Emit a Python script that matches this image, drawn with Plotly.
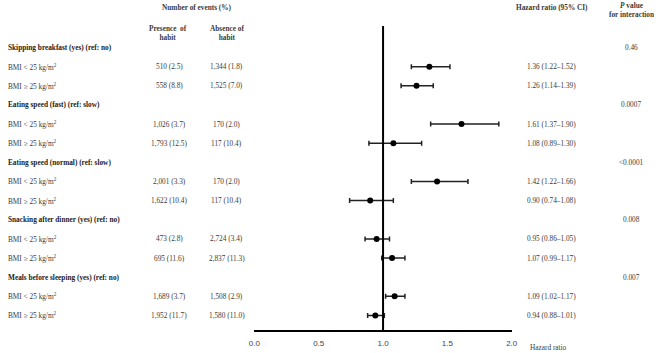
import plotly.graph_objects as go

categories = ["Skipping breakfast (yes) (ref: no)", "Eating speed (fast) (ref: slow)",
              "Eating speed (normal) (ref: slow)", "Snacking after dinner (yes) (ref: no)",
              "Meals before sleeping (yes) (ref: no)"]
p_values = ["0.46", "0.0007", "<0.0001", "0.008", "0.007"]
subgroups = ["BMI < 25 kg/m<sup>2</sup>", "BMI ≥ 25 kg/m<sup>2</sup>"]
presence = ["510 (2.5)", "558 (8.8)", "1,026 (3.7)", "1,793 (12.5)", "2,001 (3.3)",
            "1,622 (10.4)", "473 (2.8)", "695 (11.6)", "1,689 (3.7)", "1,952 (11.7)"]
absence = ["1,344 (1.8)", "1,525 (7.0)", "170 (2.0)", "117 (10.4)", "170 (2.0)",
           "117 (10.4)", "2,724 (3.4)", "2,837 (11.3)", "1,508 (2.9)", "1,580 (11.0)"]
hr = [1.36, 1.26, 1.61, 1.08, 1.42, 0.90, 0.95, 1.07, 1.09, 0.94]
lo = [1.22, 1.14, 1.37, 0.89, 1.22, 0.74, 0.86, 0.99, 1.02, 0.88]
hi = [1.52, 1.39, 1.90, 1.30, 1.66, 1.08, 1.05, 1.17, 1.17, 1.01]
xticks = [0.0, 0.5, 1.0, 1.5, 2.0]

W, H = 664, 353
ROW0, STEP = 47.5, 19.14
PLOT_H = 330

def row_of(py):
    return (py - ROW0) / STEP

SERIF = "Liberation Serif, Times New Roman, serif"
SANS = "Liberation Sans, Arial, sans-serif"
FS = 7.3
TXT = "#3a3a3a"

cat_rows = [i * 3 for i in range(len(categories))]
sub_rows = [i * 3 + k for i in range(len(categories)) for k in (1, 2)]
sub_labels = [subgroups[k] for i in range(len(categories)) for k in (0, 1)]

fig = go.Figure()
fig.add_trace(go.Scatter(
    x=hr, y=sub_rows, mode="markers",
    marker=dict(color="black", size=6),
    error_x=dict(type="data", symmetric=False,
                 array=[h - m for h, m in zip(hi, hr)],
                 arrayminus=[m - l for m, l in zip(hr, lo)],
                 color="#222222", thickness=1.5, width=2.5),
    showlegend=False, hoverinfo="skip", cliponaxis=False))

ann = []
def add(text, px, row, anchor="center", font=SERIF, size=FS, color=TXT):
    ann.append(dict(text=text, x=px / W, xref="paper", y=row, yref="y",
                    xanchor=anchor, yanchor="middle", showarrow=False,
                    font=dict(family=font, size=size, color=color)))

# headers
add("<b>Number of events (%)</b>", 195, row_of(7))
add("<b>Presence  of</b><br><b>habit</b>", 165, row_of(33))
add("<b>Absence of</b><br><b>habit</b>", 225, row_of(33))
add("<b>Hazard ratio (95% CI)</b>", 556, row_of(7))
add("<b><i>P</i> value</b><br><b>for interaction</b>", 637, row_of(10))

for c, r, p in zip(categories, cat_rows, p_values):
    add("<b>" + c + "</b>", 0, r, anchor="left", color="#222222")
    add(p, 637, r)

for lab, r, pr, ab, h, l, u in zip(sub_labels, sub_rows, presence, absence, hr, lo, hi):
    add(lab, 0, r, anchor="left")
    add(pr, 166, r)
    add(ab, 225, r)
    add(f"{h:.2f} ({l:.2f}–{u:.2f})", 556, r)

ann.append(dict(text="Hazard ratio", x=532 / W, xref="paper", y=(PLOT_H - 348) / PLOT_H,
                yref="paper", xanchor="left", yanchor="middle", showarrow=False,
                font=dict(family=SERIF, size=FS, color=TXT)))

y_bottom = row_of(PLOT_H)
fig.add_shape(type="line", x0=1, x1=1, xref="x", y0=row_of(26), y1=y_bottom, yref="y",
              line=dict(color="black", width=2))

fig.update_layout(
    width=W, height=H, margin=dict(l=0, r=0, t=0, b=H - PLOT_H),
    paper_bgcolor="white", plot_bgcolor="white",
    annotations=ann,
    xaxis=dict(domain=[253 / W, 515 / W], range=[0, 2], showgrid=False, zeroline=False,
               showline=True, linecolor="black", linewidth=2, ticks="",
               tickvals=xticks, ticktext=[f"{t:.1f}" for t in xticks],
               tickfont=dict(family=SANS, size=8, color="#444444"), ticklabelstandoff=4),
    yaxis=dict(range=[y_bottom, row_of(0)], visible=False),
)

fig.write_html("out.html")
